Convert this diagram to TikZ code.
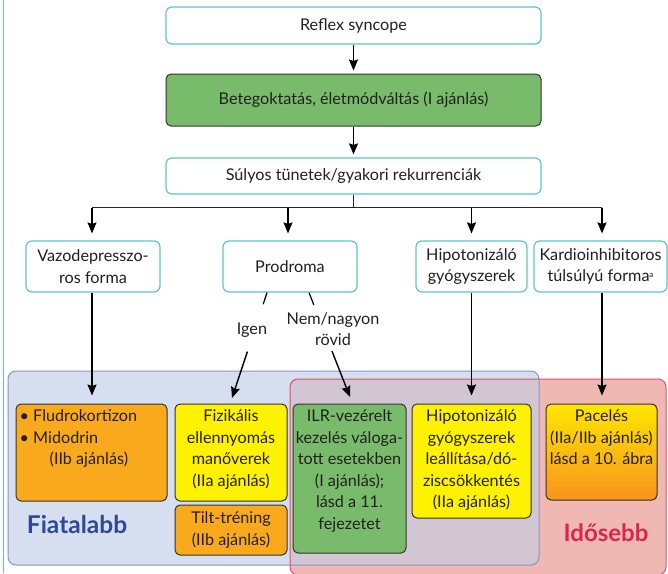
\documentclass[tikz,border=0pt]{standalone}
\usepackage{fontspec}
\setmainfont{Lato}
\usetikzlibrary{arrows.meta,calc}
\definecolor{cTeal}{HTML}{5CC6C8}
\definecolor{cGreen}{HTML}{78BC6B}
\definecolor{cOrange}{HTML}{F9AA1C}
\definecolor{cYellow}{HTML}{FFF200}
\definecolor{cBlueFill}{HTML}{D5DFF0}
\definecolor{cBlueLine}{HTML}{8E92C4}
\definecolor{cRedFill}{HTML}{F0B8B2}
\definecolor{cRedLine}{HTML}{DE5068}
\definecolor{cOverlap}{HTML}{D3C6D3}
\definecolor{cText}{HTML}{231F20}
\definecolor{cBox}{HTML}{333333}
\definecolor{cFiat}{HTML}{2D4A9A}
\definecolor{cIdo}{HTML}{D8274F}
\definecolor{cPaceTop}{HTML}{FFE600}
\definecolor{cPaceBot}{HTML}{F7941E}
\tikzset{
  topbox/.style={draw=cTeal, line width=1.2pt, fill=white, rounded corners=6pt, inner sep=0pt},
  inbox/.style={draw=cBox, line width=1pt, rounded corners=5pt, inner sep=0pt},
  txt/.style={text=cText, align=center, inner sep=0pt, font=\fontsize{16.2}{21.5}\selectfont},
  arr/.style={draw=black, line width=1.4pt, -{Stealth[length=11pt,width=9pt,inset=1.5pt]}},
  ln/.style={draw=black!85, line width=1.2pt},
}
\begin{document}
\begin{tikzpicture}[x=1pt,y=-1pt]
\useasboundingbox (0,0) rectangle (668,573);
% left frame line
\draw[cTeal, line width=1pt] (3,0) -- (3,573);
% regions
\fill[cBlueFill, rounded corners=8pt] (8,371) rectangle (539,565);
\fill[cRedFill, rounded corners=8pt] (290,379) rectangle (666,575);
\begin{scope}
  \clip[rounded corners=8pt] (8,371) rectangle (539,565);
  \fill[cOverlap, rounded corners=8pt] (290,379) rectangle (666,575);
\end{scope}
\draw[cBlueLine, line width=1pt, rounded corners=8pt] (8,371) rectangle (539,565);
\draw[cRedLine, line width=1pt, rounded corners=8pt] (290,379) rectangle (666,575);
% top boxes
\node[topbox, minimum width=375pt, minimum height=37pt] (reflex) at (353.5,25.5) {};
\node[txt] (reflexT) at (reflex.center) {Reflex syncope};
\node[inbox, fill=cGreen, minimum width=375pt, minimum height=52pt] (beteg) at (353.5,100) {};
\node[txt] (betegT) at (beteg.center) {Betegoktatás, életmódváltás (I ajánlás)};
\node[topbox, minimum width=375pt, minimum height=36pt] (sulyos) at (353.5,176) {};
\node[txt] (sulyosT) at (sulyos.center) {Súlyos tünetek/gyakori rekurrenciák};
% row boxes
\node[topbox, minimum width=134pt, minimum height=51pt] (vazo) at (93,266.5) {};
\node[txt] (vazoT) at (vazo.center) {Vazodepresszo-\\ros forma};
\node[topbox, minimum width=134pt, minimum height=51pt] (prod) at (290,266.5) {};
\node[txt] (prodT) at (prod.center) {Prodroma};
\node[topbox, minimum width=111pt, minimum height=51pt] (hipo) at (471.5,266.5) {};
\node[txt] (hipoT) at (hipo.center) {Hipotonizáló\\gyógyszerek};
\node[topbox, minimum width=133pt, minimum height=51pt] (kardio) at (600.5,266.5) {};
\node[txt] (kardioT) at (kardio.center) {Kardioinhibitoros\\túlsúlyú forma\raisebox{4pt}{\fontsize{8}{8}\selectfont a}};
% bottom boxes
\node[inbox, fill=cOrange, minimum width=151pt, minimum height=97pt] (fludro) at (91.5,452.5) {};
\node[txt, anchor=north west, align=left] (fludroT) at ($(fludro.north west)+(4,6)$) {• Fludrokortizon\\• Midodrin\\\hspace{30pt}(IIb ajánlás)};
\node[inbox, fill=cYellow, minimum width=112pt, minimum height=97pt] (fiz) at (231,452.5) {};
\node[txt, anchor=north] (fizT) at ($(fiz.north)+(0,6)$) {Fizikális\\ellennyomás\\manőverek\\(IIa ajánlás)};
\node[inbox, fill=cOrange, minimum width=112pt, minimum height=50pt] (tilt) at (231,530) {};
\node[txt] (tiltT) at (tilt.center) {Tilt-tréning\\(IIb ajánlás)};
\node[inbox, fill=cGreen, minimum width=113pt, minimum height=149pt] (ilr) at (349.5,478.5) {};
\node[txt, anchor=north] (ilrT) at ($(ilr.north)+(0,6)$) {ILR-vezérelt\\kezelés váloga-\\tott esetekben\\(I ajánlás);\\lásd a 11.\\fejezetet};
\node[inbox, fill=cYellow, minimum width=119pt, minimum height=114pt] (hipob) at (471.5,461) {};
\node[txt, anchor=north] (hipobT) at ($(hipob.north)+(0,6)$) {Hipotonizáló\\gyógyszerek\\leállítása/dó-\\ziscsökkentés\\(IIa ajánlás)};
\node[inbox, top color=cPaceTop, bottom color=cPaceBot, minimum width=111pt, minimum height=96pt] (pace) at (601.5,452) {};
\node[txt, anchor=north] (paceT) at ($(pace.north)+(0,6)$) {Pacelés\\(IIa/IIb ajánlás)\\lásd a 10. ábra};
% region labels
\node[text=cFiat, font=\fontsize{24.5}{28}\selectfont\bfseries, inner sep=0pt] (fiat) at (77,524) {Fiatalabb};
\node[text=cIdo, font=\fontsize{24}{28}\selectfont\bfseries, inner sep=0pt] (ido) at (606,533) {Idősebb};
% connectors
\draw[arr, shorten >=3pt] (reflex.south) -- (beteg.north);
\draw[arr, shorten >=3pt] (beteg.south) -- (sulyos.north);
\coordinate (bus) at ($(sulyos.south)+(0,13)$);
\draw[ln] (sulyos.south) -- (bus);
\draw[ln] ($(bus -| vazo.north)+(-1,0)$) -- ($(bus -| kardio.north)+(1.5,0)$);
\draw[arr, shorten >=7pt] ($(bus -| vazo.north)+(-1,0)$) -- ($(vazo.north)+(-1,0)$);
\draw[arr, shorten >=7pt] ($(bus -| prod.north)+(-2,0)$) -- ($(prod.north)+(-2,0)$);
\draw[arr, shorten >=7pt] (bus -| hipo.north) -- (hipo.north);
\draw[arr, shorten >=7pt] ($(bus -| kardio.north)+(1.5,0)$) -- ($(kardio.north)+(1.5,0)$);
\draw[arr, shorten >=8pt] ($(vazo.south)+(-1,0)$) -- ($(vazo.south |- fludro.north)+(-1,0)$);
\draw[arr, shorten >=8pt] (hipo.south) -- (hipo.south |- hipob.north);
\draw[arr, shorten >=8pt] ($(kardio.south)+(1.5,0)$) -- ($(kardio.south |- pace.north)+(1.5,0)$);
% prodroma branches
\coordinate (igS) at ($(prod.south)+(-23,0)$);
\coordinate (igE) at (232,398);
\coordinate (nemS) at ($(prod.south)+(19,0)$);
\coordinate (nemE) at (350,397);
\draw[line width=1.2pt] (igS) -- ($(igS)!0.11!(igE)$);
\draw[arr] ($(igS)!0.56!(igE)$) -- (igE);
\draw[line width=1.2pt] (nemS) -- ($(nemS)!0.12!(nemE)$);
\draw[arr] ($(nemS)!0.56!(nemE)$) -- (nemE);
\node[txt] (igen) at (252,330) {Igen};
\node[txt] (nem) at (333,329) {Nem/nagyon\\rövid};
\end{tikzpicture}
\end{document}
